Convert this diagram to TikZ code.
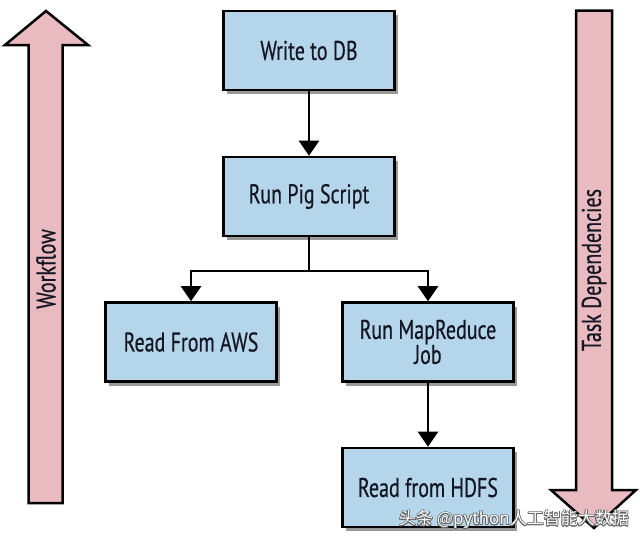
\documentclass[tikz,border=0pt]{standalone}
\usepackage{fontspec}
\setmainfont[FakeStretch=0.74,FakeBold=0.5]{PT Sans}
\newfontfamily\cjkfont{Noto Sans CJK SC}
\usepackage{xcolor}
\usepackage[copies]{contour}
\usetikzlibrary{arrows.meta,shadows,calc,positioning}

\definecolor{boxblue}{RGB}{180,213,234}
\definecolor{arrowpink}{RGB}{233,187,192}
\definecolor{inktext}{RGB}{20,22,35}

\tikzset{
    task/.style={draw=black, line width=2.6pt, fill=boxblue, text=inktext,
        minimum width=171pt, minimum height=79pt, align=center,
        font=\fontsize{27}{25}\selectfont,
        drop shadow={shadow xshift=3pt, shadow yshift=-4pt, opacity=0.4, fill=black}},
    flow/.style={line width=2.6pt, -{Triangle[width=20pt,length=15pt]}},
    bigarrow/.style={draw=black, line width=2.5pt, fill=arrowpink, line join=miter},
    side/.style={rotate=90, text=inktext, font=\fontsize{27}{27}\selectfont},
}

\begin{document}
\begin{tikzpicture}[x=1pt,y=-1pt]

    \useasboundingbox (0,0) rectangle (640,549);

    % Workflow (up)
    \draw[bigarrow] (28.5,503) -- (28.5,45) -- (5,45) -- (46,11) -- (88,45)
        -- (62.5,45) -- (62.5,503) -- cycle;
    \node[side] (workflow) at (46,269) {Workflow};

    % Task dependencies (down)
    \draw[bigarrow] (576,10.5) -- (612,10.5) -- (612,490) -- (636,490)
        -- (594,528) -- (551,490) -- (576,490) -- cycle;
    \node[side] (taskdep) at (594,270) {Task Dependencies};

    % Tasks
    \node[task] (db) at (309,50.5) {Write to DB};
    \node[task] (pig) at (309,196.5) {Run Pig Script};
    \node[task] (aws) at (191,342) {Read From AWS};
    \node[task] (mr) at (428,342) {Run MapReduce\\Job};
    \node[task] (hdfs) at (428,487.5) {Read from HDFS};

    \coordinate (split) at (309,271);

    \draw[flow] (db) -- (pig);
    \draw[line width=2.6pt] (pig) -- (split);
    \draw[flow] (split) -| (aws);
    \draw[flow] (split) -| (mr);
    \draw[flow] (mr) -- (hdfs);

    % watermark
    \contourlength{0.7pt}
    \node[white, font=\cjkfont\fontsize{17}{19}\selectfont] (mark) at (514,520)
        {\contour{gray!80!black}{头条 @python人工智能大数据}};

\end{tikzpicture}
\end{document}
